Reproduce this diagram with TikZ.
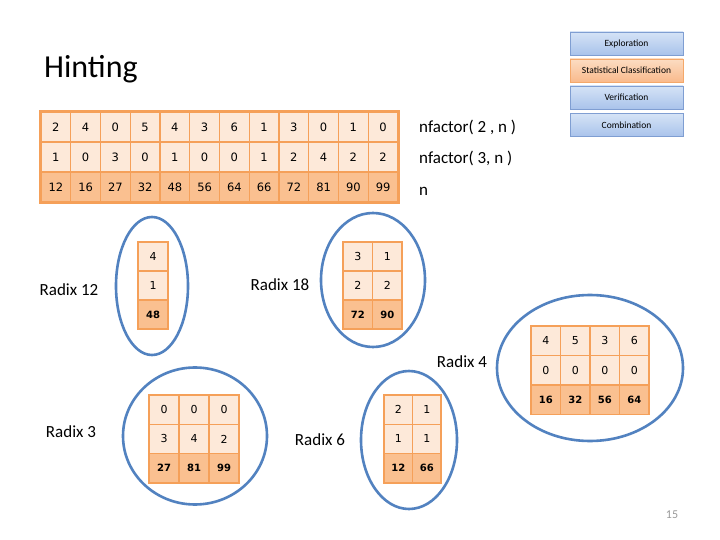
\documentclass[tikz,border=0pt]{standalone}
\usepackage{fontspec}
\setmainfont{Carlito}
\newfontfamily\cellfnt{DejaVu Sans}
\usetikzlibrary{shapes.geometric}
\definecolor{cellborder}{HTML}{F5A059}
\definecolor{lightcell}{HTML}{FDE9D9}
\definecolor{darkcell}{HTML}{FAC090}
\definecolor{ellblue}{HTML}{5282C0}
\definecolor{btnblueA}{HTML}{D5E3F6}
\definecolor{btnblueB}{HTML}{A9C3EB}
\definecolor{btnblueL}{HTML}{7F9ED2}
\definecolor{btnorA}{HTML}{FCDCC2}
\definecolor{btnorB}{HTML}{F9BA8C}
\definecolor{btnorL}{HTML}{F4A86A}
\tikzset{
  cellbase/.style={draw=cellborder, line width=1.3pt, inner sep=0pt, text=black},
  lc/.style={cellbase, fill=lightcell, font=\cellfnt\fontsize{11.5}{13}\selectfont},
  dc/.style={cellbase, fill=darkcell, font=\cellfnt\fontsize{11.5}{13}\selectfont},
  slc/.style={cellbase, fill=lightcell, font=\cellfnt\fontsize{11}{13}\selectfont},
  sdc/.style={cellbase, fill=darkcell, font=\cellfnt\bfseries\fontsize{10}{12}\selectfont},
  ring/.style={ellipse, draw=ellblue, line width=2.6pt, inner sep=0pt},
  radixlbl/.style={font=\fontsize{17}{20}\selectfont, inner sep=0pt},
  flbl/.style={font=\fontsize{17}{20}\selectfont, inner sep=0pt, anchor=base west},
  btn/.style={minimum width=113pt, minimum height=23pt, inner sep=0pt, font=\fontsize{9.5}{10}\selectfont},
  bluebtn/.style={btn, draw=btnblueL, top color=btnblueA, bottom color=btnblueB},
  orbtn/.style={btn, draw=btnorL, top color=btnorA, bottom color=btnorB},
  frame/.style={draw=cellborder, line width=2pt},
}
% name, row, x0, ytop, cell width, row height, style, values
\newcommand\gridrow[8]{%
  \foreach \v [count=\c] in {#8} {%
    \node[#7, minimum width=#5pt, minimum height=#6pt] (#1-#2-\c) at ({#3+(\c-0.5)*#5},{#4+(#2-0.5)*#6}) {\v};
  }%
}
\begin{document}
\begin{tikzpicture}[x=1pt,y=-1pt]
\useasboundingbox[fill=white] (0,0) rectangle (720,540);

% title
\node[anchor=base west, inner sep=0pt, font=\fontsize{32}{36}\selectfont] (title) at (44,78) {Hinting};

% buttons
\node[bluebtn] (bexp) at (626.5,43.5) {Exploration};
\node[orbtn]   (bstat) at (626.5,70.5) {Statistical Classification};
\node[bluebtn] (bver) at (626.5,97.5) {Verification};
\node[bluebtn] (bcomb) at (626.5,125) {Combination};

% main table
\gridrow{m}{1}{41}{112}{29.75}{30}{lc}{2,4,0,5,4,3,6,1,3,0,1,0}
\gridrow{m}{2}{41}{112}{29.75}{30}{lc}{1,0,3,0,1,0,0,1,2,4,2,2}
\gridrow{m}{3}{41}{112}{29.75}{30}{dc}{12,16,27,32,48,56,64,66,72,81,90,99}
\draw[frame] (m-1-1.north west) rectangle (m-3-12.south east);

% row labels
\node[flbl] (f2) at (419,133) {nfactor( 2 , n )};
\node[flbl] (f3) at (419,164) {nfactor( 3, n )};
\node[flbl] (fn) at (419,196) {n};

% Radix 12
\gridrow{r12}{1}{138}{242}{30}{29}{slc}{4}
\gridrow{r12}{2}{138}{242}{30}{29}{slc}{1}
\gridrow{r12}{3}{138}{242}{30}{29}{sdc}{48}
\node[ring, minimum width=72pt, minimum height=138pt] (e12) at (152,286) {};
\node[radixlbl] (l12) at (69,290) {Radix 12};

% Radix 18
\gridrow{r18}{1}{343}{242}{29.5}{29}{slc}{3,1}
\gridrow{r18}{2}{343}{242}{29.5}{29}{slc}{2,2}
\gridrow{r18}{3}{343}{242}{29.5}{29}{sdc}{72,90}
\node[ring, minimum width=104pt, minimum height=134pt] (e18) at (373,280) {};
\node[radixlbl] (l18) at (280,285) {Radix 18};

% Radix 4
\gridrow{r4}{1}{531}{326}{29.5}{29.5}{slc}{4,5,3,6}
\gridrow{r4}{2}{531}{326}{29.5}{29.5}{slc}{0,0,0,0}
\gridrow{r4}{3}{531}{326}{29.5}{29.5}{sdc}{16,32,56,64}
\node[ring, minimum width=186pt, minimum height=146pt] (e4) at (590,368) {};
\node[radixlbl] (l4) at (462,362) {Radix 4};

% Radix 3
\gridrow{r3}{1}{149}{395}{30}{29.3}{slc}{0,0,0}
\gridrow{r3}{2}{149}{395}{30}{29.3}{slc}{3,4,2}
\gridrow{r3}{3}{149}{395}{30}{29.3}{sdc}{27,81,99}
\node[ring, minimum width=144pt, minimum height=137pt] (e3) at (195,436) {};
\node[radixlbl] (l3) at (71,432) {Radix 3};

% Radix 6
\gridrow{r6}{1}{384}{395}{28.5}{29.3}{slc}{2,1}
\gridrow{r6}{2}{384}{395}{28.5}{29.3}{slc}{1,1}
\gridrow{r6}{3}{384}{395}{28.5}{29.3}{sdc}{12,66}
\node[ring, minimum width=96pt, minimum height=138pt] (e6) at (409,440) {};
\node[radixlbl] (l6) at (320,440) {Radix 6};

% page number
\node[font=\fontsize{12}{14}\selectfont, text=gray!80, inner sep=0pt] (pg) at (672,515) {15};
\end{tikzpicture}
\end{document}
